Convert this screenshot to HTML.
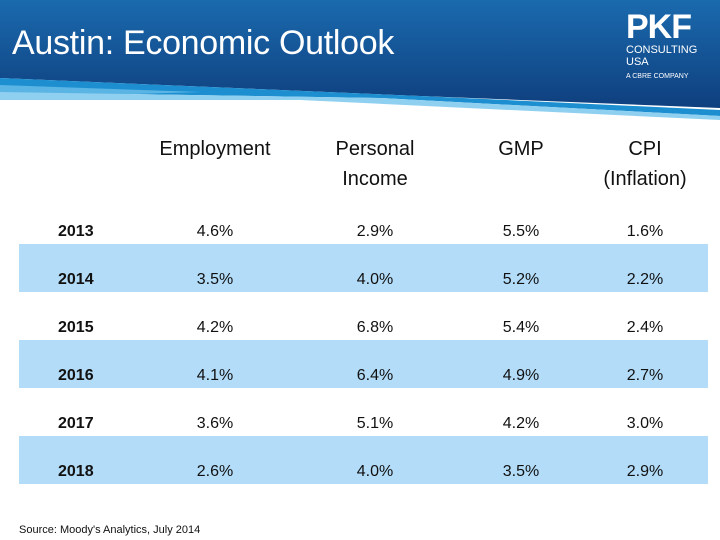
<!DOCTYPE html>
<html><head><meta charset="utf-8"><style>
body{margin:0;width:720px;height:540px;overflow:hidden;background:#fff;font-family:"Liberation Sans",sans-serif;position:relative}
.abs{position:absolute}
.row{position:absolute;left:19px;width:689px;height:48px}
.cell{position:absolute;font-size:16px;color:#111;transform:translateX(-50%);white-space:nowrap}
.hdr{position:absolute;font-size:20px;color:#111;text-align:center;transform:translateX(-50%);line-height:30px}
</style></head><body>
<svg class="abs" style="left:0;top:0" width="720" height="130">
<defs><linearGradient id="g" x1="0" y1="0" x2="0" y2="1"><stop offset="0" stop-color="#1a6aae"/><stop offset="1" stop-color="#0f3f7e"/></linearGradient></defs>
<polygon points="0,0 720,0 720,108 420,96 0,78" fill="url(#g)"/>
<polygon points="0,78 420,96 720,110 720,116 380,98 0,92" fill="#1d8fd0"/>
<polygon points="0,85 200,92 0,98" fill="#5ab4e4"/>
<polygon points="0,92 380,98 720,116 720,120 300,100 0,100" fill="#8fd0f0"/>
</svg>
<div class="abs" style="left:12px;top:24px;font-size:34px;color:#fff;letter-spacing:-0.3px">Austin: Economic Outlook</div>
<div class="abs" style="left:626px;top:10px;color:#fff;font-size:11px;line-height:12px">
<div style="font-size:34px;font-weight:bold;line-height:34px;letter-spacing:-1px">PKF</div>
<div>CONSULTING</div><div>USA</div><div style="font-size:7px;margin-top:3px">A CBRE COMPANY</div></div>
<div class="hdr" style="left:215px;top:134px">Employment</div>
<div class="hdr" style="left:375px;top:134px">Personal<br>Income</div>
<div class="hdr" style="left:521px;top:134px">GMP</div>
<div class="hdr" style="left:645px;top:134px">CPI<br>(Inflation)</div>
<div id="tbl"></div>
<div class="abs" style="left:19px;top:524px;font-size:11px;color:#111">Source: Moody's Analytics, July 2014</div>
<script>
const years=["2013","2014","2015","2016","2017","2018"];
const employment=["4.6%","3.5%","4.2%","4.1%","3.6%","2.6%"];
const income=["2.9%","4.0%","6.8%","6.4%","5.1%","4.0%"];
const gmp=["5.5%","5.2%","5.4%","4.9%","4.2%","3.5%"];
const cpi=["1.6%","2.2%","2.4%","2.7%","3.0%","2.9%"];
const tbl=document.getElementById('tbl');
const cols=[[employment,215,'employment'],[income,375,'income'],[gmp,521,'gmp'],[cpi,645,'cpi']];
years.forEach((y,i)=>{
 const top=196+i*48;
 const r=document.createElement('div');
 r.className='row';r.style.top=top+'px';
 if(i%2===1)r.style.background='#b3dcf8';
 
 
 tbl.appendChild(r);
 const yl=document.createElement('div');
 yl.className='cell';yl.style.left='58px';yl.style.transform='none';yl.style.top=(top+27)+'px';yl.style.fontWeight='bold';yl.textContent=y;
 
 
 tbl.appendChild(yl);
 cols.forEach(c=>{
  const d=document.createElement('div');
  d.className='cell';d.style.left=c[1]+'px';d.style.top=(top+27)+'px';d.textContent=c[0][i];
  
  
  tbl.appendChild(d);
 });
});
</script>
</body></html>
